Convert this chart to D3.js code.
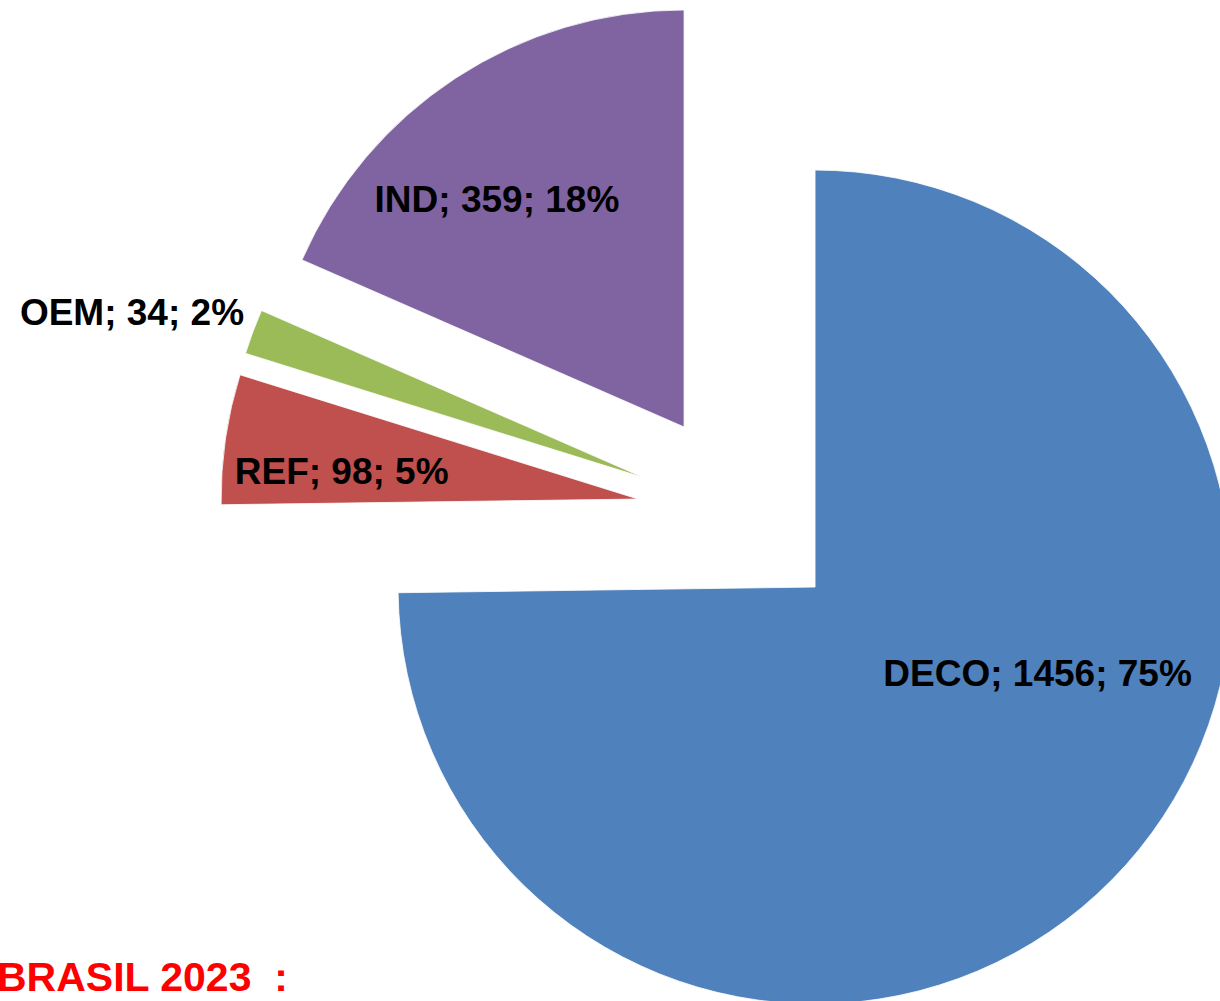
<!DOCTYPE html>
<html>
<head>
<meta charset="utf-8">
<script src="https://cdn.jsdelivr.net/npm/d3@7"></script>
<style>
  body { margin: 0; background: #fff; }
  svg { display: block; font-family: "Liberation Sans", Arial, sans-serif; }
</style>
</head>
<body>
<div id="piechart"></div>
<script>
(function pie(){

// data
const categories = ["DECO", "REF", "OEM", "IND"];
const values = [1456, 98, 34, 359];
const colors = ["#4F81BD", "#C0504D", "#9BBB59", "#8064A2"];
const title = "BRASIL 2023  :";

// label placement: angle (deg, clockwise from top) and radius fraction, from the slice tip
const labelAt = [
  { a: 111.1, r: 0.572 },
  { a: 275.4, r: 0.714 },
  { a: 288.0, r: 1.29 },
  { a: 320.6, r: 0.707 }
];

let width = 1220,
    height = 1001,
    cx = 741,
    cy = 514,
    radius = 417,
    explode = 104;

const svg = d3.select("#piechart")
  .append("svg")
  .attr("width", width)
  .attr("height", height)
  .attr("viewBox", [0, 0, width, height]);

const data = categories.map((c, i) => ({ cat: c, value: values[i], color: colors[i], lab: labelAt[i] }));
const total = d3.sum(values);
const pct = d3.format(".0%");

const arcs = d3.pie()
  .sort(null)
  .value(d => d.value)
  .startAngle(0)
  .endAngle(2 * Math.PI)(data);

const arc = d3.arc().innerRadius(0).outerRadius(radius);

// offset of each slice along its mid angle
const tip = d => {
  const m = (d.startAngle + d.endAngle) / 2;
  return [cx + explode * Math.sin(m), cy - explode * Math.cos(m)];
};

const g = svg.append("g");

const slice = g.selectAll("g.slice")
  .data(arcs)
  .join("g")
  .attr("class", "slice")
  .attr("transform", d => `translate(${tip(d)})`);

slice.append("path")
  .attr("d", arc)
  .attr("fill", d => d.data.color)
  .attr("stroke", "#fff")
  .attr("stroke-width", 0.8);

slice.append("text")
  .attr("x", d => d.data.lab.r * radius * Math.sin(d.data.lab.a * Math.PI / 180))
  .attr("y", d => -d.data.lab.r * radius * Math.cos(d.data.lab.a * Math.PI / 180))
  .attr("dy", "0.36em")
  .attr("text-anchor", "middle")
  .attr("font-size", 37)
  .attr("font-weight", "bold")
  .attr("fill", "#000")
  .text(d => `${d.data.cat}; ${d.data.value}; ${pct(d.data.value / total)}`);

svg.append("text")
  .attr("x", -3)
  .attr("y", 991)
  .attr("font-size", 41)
  .attr("font-weight", "bold")
  .attr("fill", "#FF0000")
  .attr("xml:space", "preserve")
  .style("white-space", "pre")
  .text(title);

})();
</script>
</body>
</html>
